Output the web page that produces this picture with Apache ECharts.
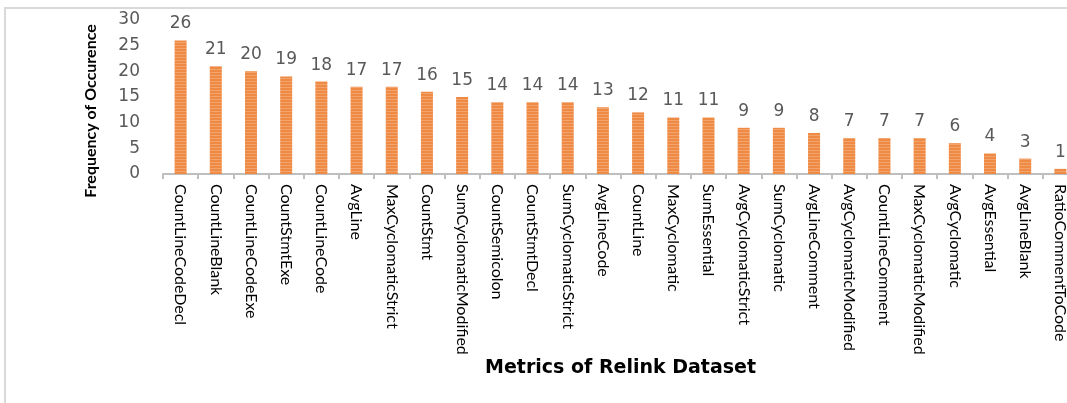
<!DOCTYPE html>
<html>
<head>
<meta charset="utf-8">
<script src="https://cdn.jsdelivr.net/npm/echarts@6/dist/echarts.min.js"></script>
<style>
  html, body { margin: 0; padding: 0; background: #fff; }
  #chart { width: 1067px; height: 403px; }
</style>
</head>
<body>
<div id="chart"></div>
<script>
// Metric names of the Relink dataset, ordered by how often each occurs
const metrics = [
  'CountLineCodeDecl', 'CountLineBlank', 'CountLineCodeExe', 'CountStmtExe',
  'CountLineCode', 'AvgLine', 'MaxCyclomaticStrict', 'CountStmt',
  'SumCyclomaticModified', 'CountSemicolon', 'CountStmtDecl', 'SumCyclomaticStrict',
  'AvgLineCode', 'CountLine', 'MaxCyclomatic', 'SumEssential',
  'AvgCyclomaticStrict', 'SumCyclomatic', 'AvgLineComment', 'AvgCyclomaticModified',
  'CountLineComment', 'MaxCyclomaticModified', 'AvgCyclomatic', 'AvgEssential',
  'AvgLineBlank', 'RatioCommentToCode'
];
const frequency = [
  26, 21, 20, 19, 18, 17, 17, 16, 15, 14, 14, 14, 13,
  12, 11, 11, 9, 9, 8, 7, 7, 7, 6, 4, 3, 1
];
const yTicks = [0, 5, 10, 15, 20, 25, 30];

const chart = echarts.init(document.getElementById('chart'), null, { renderer: 'canvas' });

chart.setOption({
  animation: false,
  backgroundColor: '#ffffff',
  graphic: [{
    // thin frame along the top and left edges
    type: 'polyline',
    shape: { points: [[5, 403], [5, 8], [1067, 8]] },
    style: { stroke: '#d9d9d9', lineWidth: 2, fill: null },
    silent: true
  }, {
    // vertical axis title
    type: 'text',
    x: 91,
    y: 111,
    rotation: Math.PI / 2,
    style: {
      text: 'Frequency of Occurence',
      fontFamily: 'Lato, sans-serif',
      fontWeight: 'bold',
      fontSize: 16,
      fill: '#000',
      align: 'center',
      verticalAlign: 'middle'
    },
    silent: true
  }],
  grid: { left: 163, top: 20, width: 915, height: 154, outerBoundsMode: 'none', containLabel: false },
  xAxis: {
    type: 'category',
    data: metrics,
    name: 'Metrics of Relink Dataset',
    nameLocation: 'middle',
    nameGap: 160,
    nameTextStyle: {
      fontFamily: 'DejaVu Sans', fontWeight: 'bold', fontSize: 19, color: '#000'
    },
    axisLine: { lineStyle: { color: '#bfbfbf', width: 2 } },
    axisTick: { show: true, length: 5, lineStyle: { color: '#bfbfbf', width: 2 } },
    axisLabel: {
      rotate: -90,
      interval: 0,
      margin: 10,
      fontFamily: 'Lato, sans-serif',
      fontSize: 16,
      color: '#000'
    }
  },
  yAxis: {
    type: 'value',
    min: yTicks[0],
    max: yTicks[yTicks.length - 1],
    interval: yTicks[1] - yTicks[0],
    axisLine: { show: false },
    axisTick: { show: false },
    splitLine: { show: false },
    axisLabel: {
      margin: 23,
      fontFamily: 'DejaVu Sans',
      fontSize: 17,
      color: '#595959'
    }
  },
  series: [{
    type: 'bar',
    data: frequency,
    barWidth: 12,
    itemStyle: {
      color: '#ef8a44',
      decal: {
        symbol: 'rect',
        symbolSize: 1,
        dashArrayX: [1, 0],
        dashArrayY: [1, 2],
        rotation: 0,
        color: 'rgba(255,255,255,0.22)'
      }
    },
    label: {
      show: true,
      position: 'top',
      distance: 8,
      fontFamily: 'DejaVu Sans',
      fontSize: 17,
      color: '#595959'
    }
  }]
});
</script>
</body>
</html>
